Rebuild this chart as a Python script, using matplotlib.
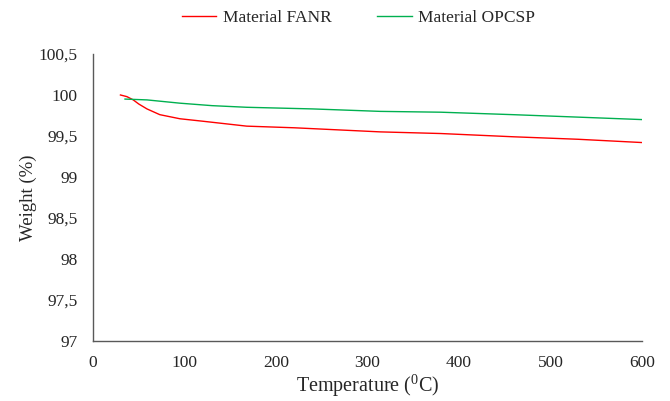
import matplotlib
matplotlib.use('Agg')
import matplotlib.pyplot as plt
from matplotlib.ticker import FixedLocator, FuncFormatter

plt.rcParams['font.family'] = ['Liberation Serif', 'DejaVu Serif']
plt.rcParams['mathtext.fontset'] = 'custom'
plt.rcParams['mathtext.rm'] = 'Liberation Serif'

# TGA curves
temp_fanr = [30, 37, 44, 50, 59, 73, 95, 120, 168, 220, 314, 380, 460, 530, 600]
weight_fanr = [100.0, 99.98, 99.94, 99.89, 99.83, 99.76, 99.71, 99.68, 99.62, 99.60, 99.55, 99.53, 99.49, 99.46, 99.42]

temp_opcsp = [35, 59, 95, 130, 168, 240, 314, 380, 459, 530, 600]
weight_opcsp = [99.95, 99.94, 99.90, 99.87, 99.85, 99.83, 99.80, 99.79, 99.76, 99.73, 99.70]

x_ticks = [0, 100, 200, 300, 400, 500, 600]
y_ticks = [97, 97.5, 98, 98.5, 99, 99.5, 100, 100.5]


def fmt_comma(v, pos):
    s = f"{v:g}"
    return s.replace('.', ',')


fig = plt.figure(figsize=(6.70, 4.01), dpi=100)
ax = fig.add_axes([0.1388, 0.1496, 0.8194, 0.7158])

ax.plot(temp_fanr, weight_fanr, color='#FF0000', lw=1.0, label='Material FANR')
ax.plot(temp_opcsp, weight_opcsp, color='#00B050', lw=1.0, label='Material OPCSP')

ax.set_xlim(0, 600)
ax.set_ylim(97, 100.5)
ax.xaxis.set_major_locator(FixedLocator(x_ticks))
ax.yaxis.set_major_locator(FixedLocator(y_ticks))
ax.yaxis.set_major_formatter(FuncFormatter(fmt_comma))
ax.tick_params(length=0, labelsize=12.5, colors='#262626')
ax.tick_params(axis='y', pad=11)
ax.tick_params(axis='x', pad=10)

for side in ['top', 'right']:
    ax.spines[side].set_visible(False)
for side in ['left', 'bottom']:
    ax.spines[side].set_color('#595959')
    ax.spines[side].set_linewidth(1.0)

ax.set_xlabel('Temperature ($^{0}$C)', fontsize=14.5, color='#262626', labelpad=1)
ax.set_ylabel('Weight (%)', fontsize=13.5, color='#262626', labelpad=1)

fig.legend(loc='upper center', bbox_to_anchor=(0.535, 1.015), ncol=2, frameon=False,
           fontsize=12.5, handlelength=2.0, handletextpad=0.35, columnspacing=2.65,
           labelcolor='#262626')

fig.savefig('out.png', dpi=100)
